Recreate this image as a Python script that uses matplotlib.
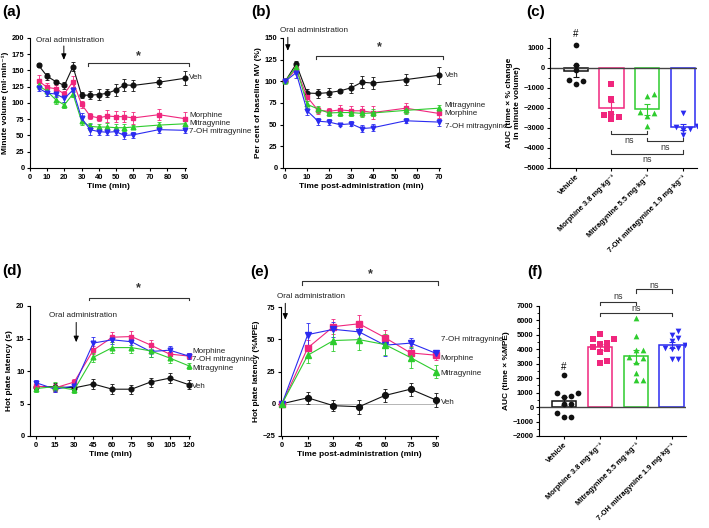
import numpy as np
import matplotlib.pyplot as plt
from matplotlib.ticker import MultipleLocator

plt.rcParams['font.family'] = ['Liberation Sans', 'DejaVu Sans']
plt.rcParams['font.weight'] = 'bold'
plt.rcParams['axes.linewidth'] = 0.8

W, H = 709, 528
PINK = '#f0267d'
GREEN = '#2ecc2e'
BLUE = '#2b2bf0'
BLACK = '#111111'

# (a) minute volume
t_a = [5, 10, 15, 20, 25, 30, 35, 40, 45, 50, 55, 60, 75, 90]
veh_a = [158, 141, 133, 127, 156, 112, 112, 113, 115, 120, 128, 127, 132, 138]
veh_a_err = [3, 5, 3, 5, 7, 5, 6, 8, 6, 9, 9, 8, 8, 11]
mor_a = [134, 124, 122, 114, 133, 98, 80, 77, 80, 79, 79, 77, 82, 76]
mor_a_err = [9, 6, 5, 5, 9, 5, 4, 4, 9, 8, 8, 9, 8, 10]
mit_a = [127, 118, 105, 97, 114, 72, 64, 63, 63, 62, 62, 63, 66, 68]
mit_a_err = [5, 8, 6, 5, 5, 6, 5, 5, 6, 5, 5, 3, 5, 4]
oh_a = [123, 115, 114, 107, 120, 77, 59, 56, 55, 56, 50, 51, 59, 58]
oh_a_err = [5, 5, 5, 6, 3, 7, 8, 5, 5, 5, 5, 5, 5, 4]

# (b) per cent of baseline MV
t_b = [0, 5, 10, 15, 20, 25, 30, 35, 40, 55, 70]
veh_b = [100, 120, 86.5, 86, 87, 89, 92.5, 99, 98, 102, 107]
veh_b_err = [0, 4, 5, 5, 5, 2, 6, 7, 7, 6, 10]
mor_b = [100, 114, 82, 66.5, 65.5, 67, 66, 66, 64, 69, 63]
mor_b_err = [0, 4, 5, 4, 4, 6, 5, 6, 7, 6, 5]
mit_b = [100, 116.5, 73.5, 68, 63.5, 64, 64, 63, 63.5, 66.5, 69]
mit_b_err = [0, 6, 4, 4, 4, 4, 4, 4, 4, 4, 4]
oh_b = [100, 110, 66, 54, 53, 50, 51, 45.5, 46.5, 54.5, 53]
oh_b_err = [0, 6, 5, 4, 3, 1, 3, 4, 4, 3, 4]

# (c) AUC minute volume, individual animals
groups = ['Vehicle', 'Morphine 3.8 mg·kg⁻¹', 'Mitragynine 5.5 mg·kg⁻¹',
          '7-OH mitragynine 1.9 mg·kg⁻¹']
auc_c = [
    [1170, 170, -120, -620, -670, -780],
    [-780, -1530, -2280, -2370, -2450, -2550],
    [-1280, -1420, -2200, -2230, -2400, -2920],
    [-2250, -2900, -2950, -3050, -3100, -3370],
]

# (d) hot plate latency
t_d = [0, 15, 30, 45, 60, 75, 90, 105, 120]
veh_d = [7.6, 7.6, 7.4, 8.0, 7.2, 7.2, 8.3, 8.9, 7.9]
veh_d_err = [0.7, 0.6, 0.7, 0.8, 0.8, 0.7, 0.7, 0.8, 0.7]
mor_d = [7.7, 7.4, 8.3, 13.2, 15.2, 15.3, 14.0, 12.6, 12.3]
mor_d_err = [0.5, 0.6, 0.4, 0.6, 0.8, 0.9, 0.7, 0.6, 0.4]
oh_d = [8.2, 7.2, 7.7, 14.3, 14.8, 14.5, 13.0, 13.2, 12.3]
oh_d_err = [0.4, 0.5, 0.4, 0.9, 0.6, 0.5, 0.9, 0.6, 0.4]
mit_d = [7.3, 7.6, 7.1, 12.1, 13.6, 13.6, 13.1, 12.0, 10.8]
mit_d_err = [0.5, 0.7, 0.5, 0.7, 0.8, 0.9, 0.9, 0.8, 0.5]

# (e) hot plate %MPE
t_e = [0, 15, 30, 45, 60, 75, 90]
veh_e = [0, 4.6, -1.5, -2.3, 6.4, 11.3, 2.8]
veh_e_err = [0, 4.5, 4.5, 5.5, 5, 5, 5.5]
mor_e = [0, 43.3, 59.8, 62, 51.3, 39.4, 37.6]
mor_e_err = [0, 6, 6, 7, 6, 5, 4]
oh_e = [0, 53.6, 57.7, 55.7, 45.4, 47, 39]
oh_e_err = [0, 9, 6, 5, 8, 4, 3]
mit_e = [0, 37.6, 49, 49.7, 45.9, 35.8, 25]
mit_e_err = [0, 6, 8, 8, 8, 8, 5]

# (f) AUC %MPE, individual animals
auc_f = [
    [2200, 1000, 1000, 700, 750, 250, 250, -400, -700, -700],
    [5050, 4750, 4700, 4450, 4400, 4150, 4000, 3850, 3200, 3050],
    [6200, 4950, 3950, 3950, 3450, 3400, 3100, 2350, 1850, 1850],
    [5300, 5000, 4800, 4600, 4300, 4100, 4100, 4050, 3350, 3300],
]

fig = plt.figure(figsize=(W / 100, H / 100), dpi=100)


def add_ax(left, right, top, bottom):
    return fig.add_axes([left / W, 1 - bottom / H, (right - left) / W, (bottom - top) / H])


def style(ax, ylabel, xlabel=None):
    for s in ['top', 'right']:
        ax.spines[s].set_visible(False)
    ax.tick_params(labelsize=5.4, length=2.5, width=0.8, pad=1.5)
    for lab in ax.get_xticklabels() + ax.get_yticklabels():
        lab.set_fontweight('bold')
    ax.set_ylabel(ylabel, fontsize=6.0, fontweight='bold', labelpad=2)
    if xlabel:
        ax.set_xlabel(xlabel, fontsize=6.0, fontweight='bold', labelpad=2)


def series(ax, t, y, e, color, marker, ms=3.4):
    ax.errorbar(t, y, yerr=e, color=color, marker=marker, ms=ms, lw=0.8,
                elinewidth=0.6, capsize=1.6, capthick=0.6, clip_on=False, zorder=3)


def bracket(ax, x0, x1, y, tip, text=None, ty=None, fs=8):
    ax.plot([x0, x0, x1, x1], [tip, y, y, tip], color='#333333', lw=0.8, clip_on=False)
    if text:
        ax.text((x0 + x1) / 2, ty, text, ha='center', va='center', fontsize=fs,
                fontweight='normal' if text == 'ns' else 'bold', color='#333333')


def oral(ax, tx, ty, ax_x, y0, y1):
    ax.text(tx, ty, 'Oral administration', fontsize=5.9, fontweight='normal',
            ha='center', va='center', color='#222222')
    ax.annotate('', xy=(ax_x, y1), xytext=(ax_x, y0), annotation_clip=False,
                arrowprops=dict(arrowstyle='-|>,head_length=0.35,head_width=0.15',
                                lw=0.7, color='black'))


def side_labels(ax, x, items):
    for txt, y in items:
        ax.text(x, y, txt, fontsize=5.8, fontweight='normal', va='center', ha='left',
                clip_on=False, color='#222222')


def swarm(vals, ythr, step):
    # simple beeswarm: put each point at the smallest free horizontal offset
    vals = np.asarray(vals, dtype=float)
    offs = np.zeros(len(vals))
    placed = []
    for i in np.argsort(vals):
        cands = [0.0]
        for k in range(1, 8):
            cands += [k * step, -k * step]
        for c in cands:
            if all(abs(vals[i] - vals[j]) >= ythr or abs(c - offs[j]) >= step * 0.95
                   for j in placed):
                offs[i] = c
                break
        placed.append(i)
    return offs


def auc_panel(ax, data, ythr, step):
    colors = [BLACK, PINK, GREEN, BLUE]
    markers = ['o', 's', '^', 'v']
    for i, vals in enumerate(data):
        m = np.mean(vals)
        sem = np.std(vals, ddof=1) / np.sqrt(len(vals))
        ax.bar(i, m, width=0.68, facecolor='white', edgecolor=colors[i], lw=1.1, zorder=1)
        ax.errorbar(i, m, yerr=sem, color=colors[i], capsize=2.4, elinewidth=0.8,
                    capthick=0.8, zorder=4)
        ax.scatter(i + swarm(vals, ythr, step), vals, s=17, color=colors[i],
                   marker=markers[i], zorder=3, linewidths=0)
    ax.set_xticks(range(4))
    ax.set_xticklabels(groups, rotation=45, ha='right', rotation_mode='anchor',
                       fontsize=5.6, fontweight='bold')
    ax.axhline(0, color='#444444', lw=1.0, zorder=2)


# ---------------- (a)
ax = add_ax(30, 186, 38, 168)
series(ax, t_a, veh_a, veh_a_err, BLACK, 'o')
series(ax, t_a, mor_a, mor_a_err, PINK, 's')
series(ax, t_a, mit_a, mit_a_err, GREEN, '^')
series(ax, t_a, oh_a, oh_a_err, BLUE, 'v')
ax.set_xlim(0, 90.8)
ax.set_ylim(0, 200)
ax.xaxis.set_major_locator(MultipleLocator(10))
ax.yaxis.set_major_locator(MultipleLocator(25))
style(ax, 'Minute volume (ml·min⁻¹)', 'Time (min)')
bracket(ax, 34, 92.5, 162, 157, '*', 172, fs=9)
oral(ax, 23.5, 196, 19.7, 192, 162)
side_labels(ax, 92.5, [('Veh', 139), ('Morphine', 80.5), ('Mitragynine', 68),
                       ('7-OH mitragynine', 55.5)])

# ---------------- (b)
ax = add_ax(283, 440, 38, 168)
series(ax, t_b, veh_b, veh_b_err, BLACK, 'o')
series(ax, t_b, mor_b, mor_b_err, PINK, 's')
series(ax, t_b, mit_b, mit_b_err, GREEN, '^')
series(ax, t_b, oh_b, oh_b_err, BLUE, 'v')
ax.set_xlim(-1, 70.6)
ax.set_ylim(0, 150)
ax.xaxis.set_major_locator(MultipleLocator(10))
ax.yaxis.set_major_locator(MultipleLocator(25))
style(ax, 'Per cent of baseline MV (%)', 'Time post-administration (min)')
bracket(ax, 14, 72, 129, 126, '*', 139, fs=9)
oral(ax, 13, 159, 1.2, 154, 132)
side_labels(ax, 72.8, [('Veh', 107), ('Mitragynine', 72.5), ('Morphine', 63),
                       ('7-OH mitragynine', 48)])

# ---------------- (c)
ax = add_ax(550, 697, 38, 168)
auc_panel(ax, auc_c, 260, 0.2)
ax.set_xlim(-0.72, 3.4)
ax.set_ylim(-5000, 1500)
ax.set_yticks(range(-5000, 1001, 1000))
ax.yaxis.set_minor_locator(MultipleLocator(500))
ax.tick_params(axis='y', which='minor', length=1.5, width=0.6)
style(ax, 'AUC (time × % change\nin minute volume)')
ax.text(0, 1720, '#', ha='center', va='center', fontsize=7, fontweight='normal')
bracket(ax, 1, 2, -3300, -3150, 'ns', -3630, fs=6.5)
bracket(ax, 2, 3, -3650, -3500, 'ns', -3990, fs=6.5)
bracket(ax, 1, 3, -4300, -4120, 'ns', -4580, fs=6.5)

# ---------------- (d)
ax = add_ax(30, 190, 306, 436)
series(ax, t_d, veh_d, veh_d_err, BLACK, 'o')
series(ax, t_d, mor_d, mor_d_err, PINK, 's')
series(ax, t_d, oh_d, oh_d_err, BLUE, 'v')
series(ax, t_d, mit_d, mit_d_err, GREEN, '^')
ax.set_xlim(-4.7, 121)
ax.set_ylim(0, 20)
ax.xaxis.set_major_locator(MultipleLocator(15))
ax.yaxis.set_major_locator(MultipleLocator(5))
style(ax, 'Hot plate latency (s)', 'Time (min)')
bracket(ax, 41.3, 120, 21.3, 20.9, '*', 22.7, fs=9)
oral(ax, 37.3, 18.6, 31.6, 17.9, 14.0)
side_labels(ax, 122.5, [('Morphine', 13.0), ('7-OH mitragynine', 11.8),
                        ('Mitragynine', 10.4), ('Veh', 7.6)])

# ---------------- (e)
ax = add_ax(281, 438, 307, 436)
ax.axhline(0, color='#aaaaaa', lw=0.6, zorder=1)
series(ax, t_e, veh_e, veh_e_err, BLACK, 'o', ms=4.2)
series(ax, t_e, mor_e, mor_e_err, PINK, 's', ms=4.2)
series(ax, t_e, oh_e, oh_e_err, BLUE, 'v', ms=4.2)
series(ax, t_e, mit_e, mit_e_err, GREEN, '^', ms=4.2)
ax.set_xlim(-0.6, 91)
ax.set_ylim(-25, 75)
ax.xaxis.set_major_locator(MultipleLocator(15))
ax.yaxis.set_major_locator(MultipleLocator(25))
style(ax, 'Hot plate latency (%MPE)', 'Time post-administration (min)')
bracket(ax, 11.8, 91, 95, 92, '*', 100.5, fs=9)
oral(ax, 17, 83, 1.9, 80, 63)
side_labels(ax, 92.5, [('7-OH mitragynine', 50), ('Morphine', 35.3),
                       ('Mitragynine', 23.2), ('Veh', 0.8)])

# ---------------- (f)
ax = add_ax(539, 686, 306, 436)
auc_panel(ax, auc_f, 360, 0.19)
ax.set_xlim(-0.7, 3.4)
ax.set_ylim(-2000, 7000)
ax.set_yticks(range(-2000, 7001, 1000))
ax.yaxis.set_minor_locator(MultipleLocator(500))
ax.tick_params(axis='y', which='minor', length=1.5, width=0.6)
style(ax, 'AUC (time × %MPE)')
ax.text(0, 2800, '#', ha='center', va='center', fontsize=7, fontweight='normal')
bracket(ax, 1, 2, 7256, 7090, 'ns', 7690, fs=6.5)
bracket(ax, 2, 3, 8150, 7920, 'ns', 8450, fs=6.5)
bracket(ax, 1, 3, 6490, 6310, 'ns', 6840, fs=6.5)

# panel letters
for lab, x, y in [('(a)', 2, 12), ('(b)', 251, 12), ('(c)', 526, 12),
                  ('(d)', 2, 271), ('(e)', 250, 272), ('(f)', 527, 272)]:
    fig.text(x / W, 1 - y / H, lab, fontsize=11, fontweight='bold', va='center', ha='left')

fig.savefig('out.png', dpi=100)
